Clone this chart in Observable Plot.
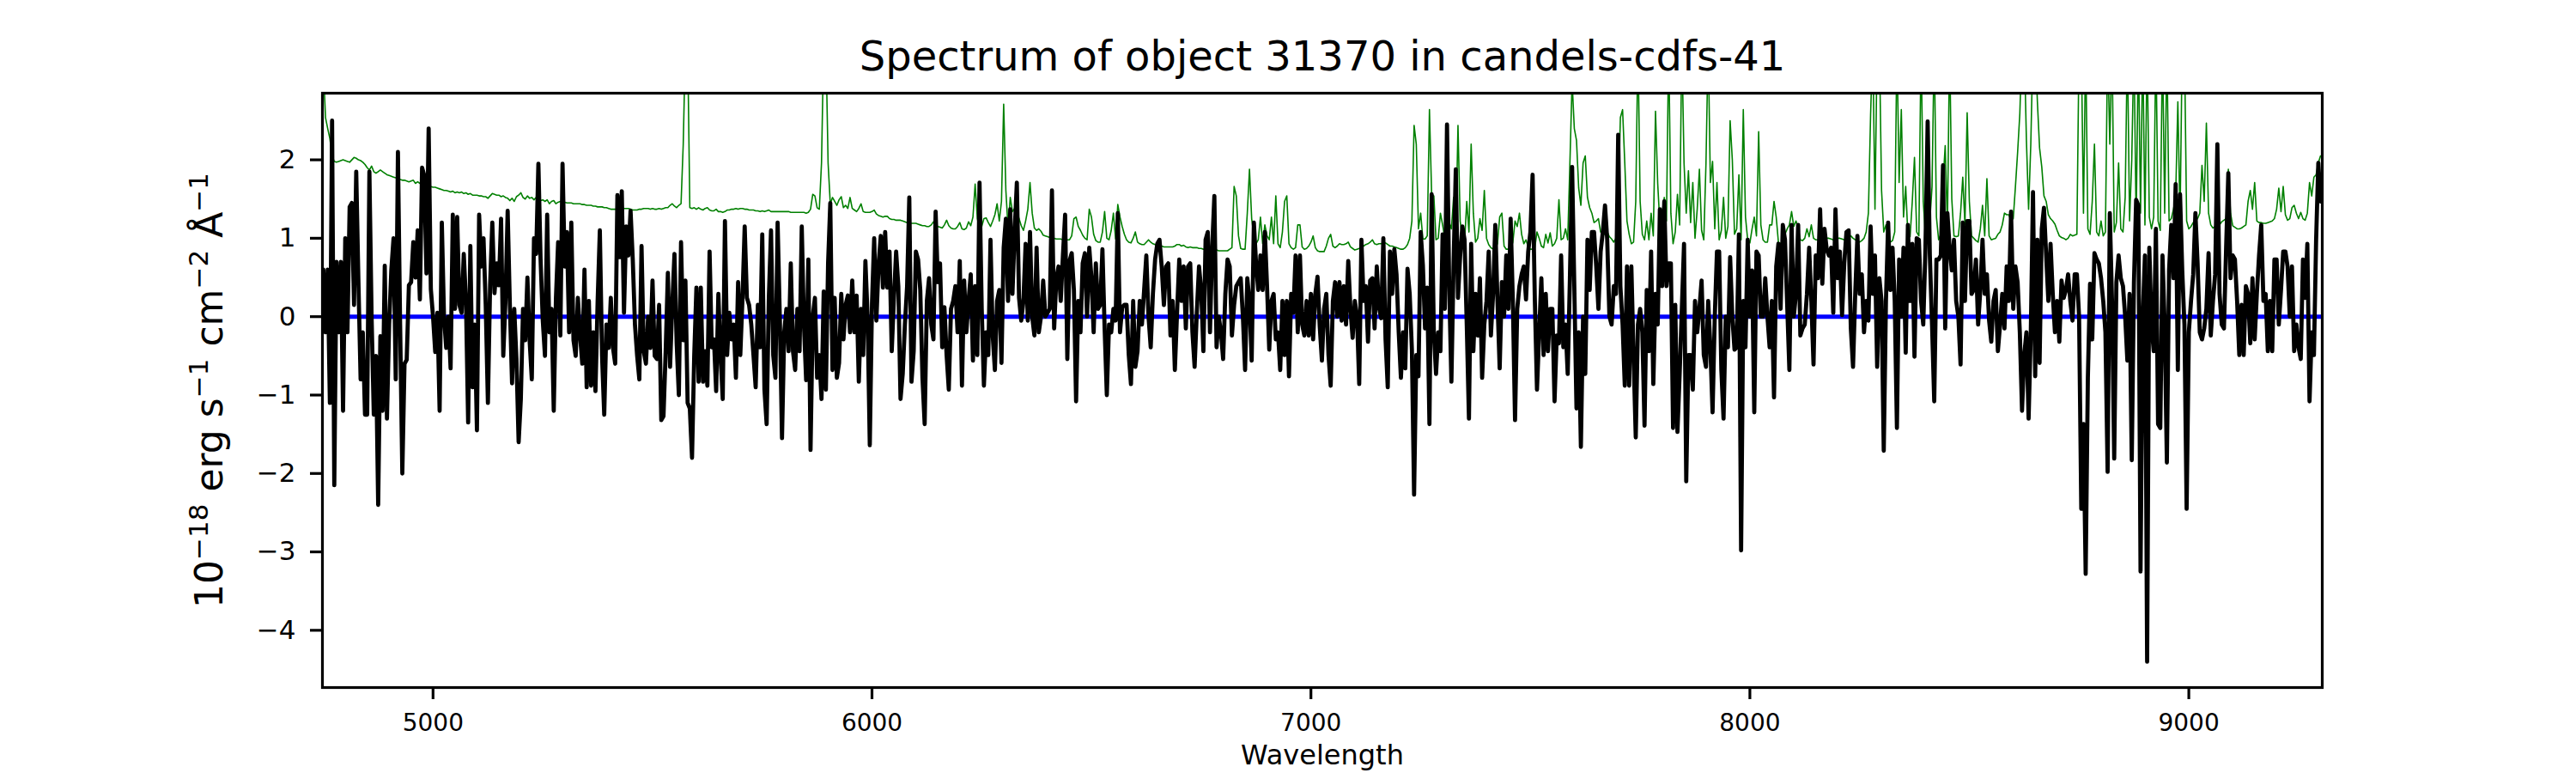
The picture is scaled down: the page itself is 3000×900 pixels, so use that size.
<!DOCTYPE html>
<html><head><meta charset="utf-8">
<script src="https://cdn.jsdelivr.net/npm/d3@7"></script>
<script src="https://cdn.jsdelivr.net/npm/@observablehq/plot@0.6"></script>
<style>html,body{margin:0;padding:0;background:#fff;} svg{display:block;}</style>
</head><body><div id="chart"></div>
<script>
const titleText = "Spectrum of object 31370 in candels-cdfs-41";
const xLabel = "Wavelength";
const yLabel = "10−18 erg s−1 cm−2 Å−1";
// pieces of the y label: [text, isSuperscript]
const yLabelParts = [["10", false], ["−18", true], [" erg s", false], ["−1", true], [" cm", false], ["−2", true], [" Å", false], ["−1", true]];
const xTicks = [5000, 6000, 7000, 8000, 9000];
const yTicks = [-4, -3, -2, -1, 0, 1, 2];
const xDomain = [4748, 9304];
const yDomain = [-4.73, 2.85];
const zeroLevel = [0];
// regular 5 Å sampling grid of the spectrum
const wavelengthStart = 4750;
const wavelengthStep = 5;

// observed flux (black)
const flux = [
0.6,-0.2,0.6,-1.1,2.5,-2.15,0.7,-0.2,0.7,-1.2,
1.0,-0.2,1.4,1.45,0.15,1.85,0.45,-0.8,-0.2,-1.25,
-1.25,1.85,0.0,-1.25,-0.5,-2.4,-0.25,-1.2,0.65,-1.3,
-0.1,0.6,1.0,-0.8,2.1,-0.1,-2.0,-0.6,-0.55,0.4,
0.44,0.95,0.5,1.1,0.22,1.9,1.8,0.55,2.4,0.35,
0.0,-0.45,0.05,-1.2,1.2,0.0,-0.4,0.0,-0.66,1.3,
0.1,1.27,0.15,0.05,0.8,0.2,-1.35,0.9,-0.9,-0.1,
-1.45,1.3,0.64,1.0,0.15,-1.1,0.4,1.2,0.3,0.68,
0.4,1.25,-0.5,0.2,1.35,0.15,-0.85,0.1,-0.54,-1.6,
-1.05,0.1,-0.3,0.5,-0.3,-0.8,1.0,0.8,1.95,0.73,
-0.05,-0.5,1.3,-0.2,0.1,-1.2,0.24,0.95,-0.24,1.95,
0.64,1.08,-0.2,1.2,-0.3,-0.5,0.24,-0.24,-0.6,0.6,
-0.9,0.2,-0.88,-0.2,-0.95,0.2,1.1,-0.5,-1.25,-0.1,
-0.4,0.24,-0.4,-0.6,1.55,0.76,1.6,0.05,1.15,0.78,
1.35,0.73,-0.1,-0.5,-0.8,0.9,-0.44,-0.6,0.0,-0.4,
0.46,-0.5,-0.54,0.15,-1.32,-1.27,-0.44,0.56,-0.64,0.15,
0.8,-0.34,-1.0,0.95,-0.3,0.46,-1.1,-1.17,-1.8,-0.5,
0.37,-0.83,0.37,-0.83,-0.44,-0.88,0.83,-0.39,-0.29,-0.95,
0.29,-0.49,-1.05,1.22,-0.49,0.05,-0.29,-0.1,-0.78,0.44,
-0.49,0.24,1.15,0.24,0.15,-0.1,-0.49,-0.9,0.15,-0.39,
1.05,-0.93,-1.37,0.24,1.1,-0.49,-0.78,1.2,0.0,-1.55,
-0.2,0.1,-0.44,0.68,-0.44,-0.68,0.1,-0.44,1.15,-0.1,
-0.81,0.73,-1.7,0.0,0.24,-0.78,-0.49,-1.05,0.32,-0.93,
0.68,1.45,
-0.68,0.24,-0.78,-0.59,0.29,-0.29,0.15,0.27,-0.2,0.46,
-0.2,0.27,-0.83,0.1,-0.49,0.71,0,-1.64,0.17,1.0,
-0.05,0.66,1.03,0.37,1.08,0.37,0.83,-0.44,0.24,0.83,
0.39,-1.05,-0.73,-0.1,0.39,1.52,-0.83,-0.44,0.83,0.73,
0.34,-0.78,-1.37,0.2,0.49,-0.1,-0.29,1.34,0.44,0.68,
-0.39,0.12,-0.49,-0.93,0.1,0.2,0.39,-0.2,0.71,-0.88,
0.46,-0.2,0.2,0.54,-0.56,0.39,-0.49,1.71,0.1,-0.88,
-0.2,-0.49,0.98,-0.24,-0.68,0.2,0.34,-0.59,0.88,1.25,
0.2,1.37,0.29,1.08,1.71,0.24,-0.05,0.2,0.93,-0.05,
1.08,0,-0.24,0.88,-0.2,0,0.46,0,0.05,0.1,
1.61,-0.15,0.49,0.64,0.2,0.78,1.3,-0.54,0.71,0.81,
0.34,-1.08,0.2,-0.2,0.68,0.81,0,0.88,0.49,-0.2,
0.68,0.1,0.15,0.86,-0.15,-1.0,-0.1,-0.2,0.1,-0.05,
1.32,-0.2,0.12,0.15,0.15,-0.49,-0.86,0.2,-0.64,-0.44,
0.2,-0.1,0.34,0.78,0,-0.39,0.29,0.73,0.93,0.98,
0.64,0.15,0.64,0.68,-0.24,0.2,-0.68,0.05,0.73,0.2,
0.64,-0.15,0.64,0.68,-0.2,-0.64,0.05,0.64,0.34,-0.44,
0.98,1.08,-0.2,0.88,1.54,-0.39,0,-0.2,-0.54,0.29,
0.73,0.64,-0.24,0.15,0.39,0.44,0.49,0,-0.68,0.49,
0.2,-0.56,1.2,0.68,0.34,0.78,0.34,1.08,0.39,-0.42,
0.2,0.29,-0.29,-0.2,-0.68,0.2,-0.49,0.2,-0.76,0.29,
0.05,0.78,-0.2,0.78,-0.1,-0.24,0.2,-0.24,0.29,-0.29,
0.29,0.51,-0.12,-0.56,0.1,0.29,-0.49,-0.88,0.2,0.44,
0,0.44,
-0.05,0.39,-0.1,0.71,0.1,-0.27,0.2,0,-0.86,0.98,
0.2,0.39,-0.32,0.46,0.49,-0.15,0.64,0.12,-0.02,1.0,
-0.29,-0.9,0.83,0.29,0.86,0.54,-0.2,-0.78,-0.2,-0.66,
0.61,0.29,-0.42,-2.27,-0.49,-0.76,1.08,0.66,-0.15,0.37,
-1.37,1.56,-0.2,-0.73,-0.2,-0.44,1.05,0.1,2.45,0.39,
-0.83,0.68,1.88,0.24,0.78,1.15,0.98,-0.1,-1.3,0.93,
-0.44,0.29,-0.24,0.49,-0.78,-0.1,0.2,0.83,-0.24,0.29,
1.17,0.2,-0.66,0.44,0,0.78,0.1,1.25,0.2,-1.32,
0.1,0.39,0.54,0.64,0.22,0.83,1.08,1.81,0.24,-0.93,
-0.2,0.49,-0.49,0.29,-0.44,0.1,0.1,-1.08,-0.24,-0.34,
0.78,-0.39,-0.1,-0.73,0.49,1.91,0.39,-1.17,-0.2,-1.66,
0,-0.73,0.98,0.34,1.08,1.08,0.64,0.1,0.83,1.08,
1.42,0.98,0,-0.1,0.39,0.29,2.32,0.39,-0.1,-0.88,
0.64,-0.88,0.64,-0.49,-1.54,-0.1,0.1,-0.2,-1.39,0.34,
-0.44,0.83,-0.86,0.29,-0.1,1.37,0.39,1.47,0.39,0.68,
0.68,-1.42,0.15,-1.47,-0.73,0.1,0.93,-2.1,-0.49,-0.49,
-0.93,0.2,-0.2,0.1,0.46,-0.49,-0.64,0.2,-0.39,-1.22,
0,0.83,0.83,-0.68,-1.3,0,-0.39,0.76,0,-0.42,
-0.39,1.05,-2.98,0.2,-0.39,0.98,0,0.59,-1.22,0.83,
0.78,0,0,0.49,0,-0.39,0.2,-1.03,0.64,0.93,
0.1,1.17,0.98,0.15,-0.68,1.17,0,0.29,1.17,-0.24,
-0.15,-0.1,0.29,0.88,0.2,-0.61,0.78,0.49,1.37,0.42,
1.12,0.86,0.78,0.88,0.05,1.37,0.49,0.83,0.02,0.68,
1.08,
1.1,-0.15,-0.64,0.29,1.03,0.29,0.54,-0.2,0.2,-0.05,
1.15,0.29,0.78,-0.64,0.49,0.2,-1.71,0.2,1.2,0.34,
0.88,0.2,-1.42,0.73,0,0.88,-0.46,1.17,0.2,0.93,
-0.51,1.0,0.98,0.2,-0.1,0.88,2.49,0.78,-0.1,-1.08,
0.73,0.73,0.78,1.93,-0.15,1.32,0.88,0.59,0.98,0.2,
0,-0.61,1.2,0.2,1.22,1.22,0.29,0.34,0.73,-0.1,
0.34,0.98,0.29,0.54,-0.05,-0.32,0.2,0.34,-0.44,-0.1,
0.29,-0.15,0.64,0.2,1.34,0.1,0.64,0.44,-0.2,-1.2,
-0.49,-0.2,-1.3,-0.2,1.59,-0.76,0.98,-0.59,1.12,1.39,
0.78,0.2,0.93,0.29,-0.2,0.2,-0.32,0.46,0.24,0.34,
0.54,0.2,-0.05,0.54,0.54,0,-2.45,-1.37,-3.28,-0.78,
0.42,-0.29,0.81,0.73,0.68,0.49,0.2,-0.2,-1.98,1.32,
0.2,-1.81,0.44,0.78,0.49,0.39,0,-0.56,0.29,-1.83,
0.44,1.49,1.42,-3.25,0,0.78,-4.40,0.88,-0.1,-0.44,
1.12,-1.37,-1.42,0.78,-0.1,-1.86,0.59,1.17,0.49,1.69,
-0.68,1.56,0.59,-0.1,-2.45,-0.2,0.2,0.54,1.32,0.68,
-0.2,-0.29,-0.15,0.1,0.81,-0.24,0.2,0.54,2.2,0.29,
-0.1,-0.15,0.88,1.83,0.49,0.78,0.73,0.2,-0.49,0.15,
-0.49,0.39,0.29,-0.34,0.49,-0.29,0.29,0.78,1.17,0.2,
0.29,-0.44,0.2,-0.44,0.73,0.73,-0.1,0.34,0.83,0.83,
0.64,0,0.64,-0.44,-0.1,-0.39,-0.54,0.73,0.24,0.93,
-1.08,-0.2,-0.49,0.98,1.96,1.47
];

// noise / sky spectrum (green)
const noise = [
3.2,2.54,2.40,2.27,2.05,1.98,1.97,1.98,1.99,2.00,
1.99,1.98,1.97,2.00,2.03,2.02,2.00,1.99,1.97,1.94,
1.90,1.87,1.92,1.85,1.83,1.85,1.87,1.85,1.83,1.81,
1.80,1.79,1.78,1.77,1.76,1.75,1.74,1.74,1.73,1.72,
1.73,1.74,1.70,1.72,1.70,1.69,1.68,1.65,1.65,1.66,
1.65,1.65,1.64,1.63,1.62,1.61,1.61,1.60,1.59,1.60,
1.58,1.59,1.58,1.59,1.57,1.58,1.56,1.57,1.55,1.55,
1.55,1.54,1.54,1.53,1.53,1.51,1.54,1.57,1.56,1.55,
1.55,1.53,1.54,1.52,1.51,1.48,1.51,1.47,1.53,1.55,
1.58,1.52,1.50,1.54,1.51,1.52,1.49,1.52,1.51,1.48,
1.49,1.47,1.49,1.44,1.47,1.48,1.44,1.46,1.47,1.46,
1.46,1.45,1.45,1.45,1.44,1.44,1.44,1.44,1.43,1.43,
1.42,1.42,1.42,1.41,1.41,1.40,1.40,1.40,1.39,1.39,
1.38,1.37,1.37,1.37,1.37,1.37,1.38,1.38,1.38,1.38,
1.37,1.36,1.36,1.36,1.37,1.37,1.38,1.38,1.38,1.37,
1.38,1.37,1.37,1.38,1.37,1.38,1.39,1.39,1.42,1.44,
1.41,1.39,1.42,1.44,2.2,3.5,3.5,1.39,1.38,1.39,
1.37,1.39,1.37,1.36,1.38,1.39,1.36,1.35,1.35,1.37,
1.34,1.34,1.33,1.34,1.36,1.36,1.37,1.37,1.38,1.37,
1.38,1.38,1.37,1.37,1.36,1.36,1.36,1.35,1.35,1.34,
1.35,1.34,1.35,1.36,1.34,1.34,1.34,1.34,1.34,1.34,
1.34,1.34,1.34,1.33,1.33,1.33,1.33,1.33,1.33,1.33,
1.32,1.33,1.37,1.56,1.54,1.39,1.37,1.96,3.5,3.5,
1.96,1.44,
1.52,1.47,1.42,1.49,1.53,1.39,1.42,1.38,1.52,1.38,
1.36,1.34,1.38,1.44,1.34,1.33,1.33,1.33,1.34,1.36,
1.31,1.29,1.28,1.27,1.28,1.28,1.25,1.24,1.24,1.23,
1.23,1.23,1.22,1.21,1.20,1.19,1.19,1.19,1.19,1.18,
1.17,1.16,1.16,1.15,1.15,1.17,1.21,1.17,1.15,1.14,
1.13,1.17,1.23,1.16,1.13,1.12,1.12,1.15,1.20,1.12,
1.11,1.13,1.21,1.16,1.27,1.69,1.25,1.13,1.15,1.25,
1.26,1.20,1.15,1.22,1.30,1.44,1.22,1.47,2.71,1.61,
1.13,1.52,1.34,1.38,1.37,1.25,1.16,1.10,1.22,1.37,
1.71,1.32,1.13,1.10,1.12,1.09,1.04,1.03,1.02,1.01,
1.01,1.00,0.99,0.99,0.99,0.98,0.98,0.98,0.98,1.03,
1.25,1.27,1.15,1.10,1.04,1.00,0.98,1.37,1.27,1.05,
0.97,0.95,0.95,1.08,1.34,1.00,0.98,1.10,1.32,0.99,
1.43,1.27,1.15,1.05,0.98,0.95,0.94,1.00,1.08,0.95,
0.93,0.92,0.92,0.95,0.98,0.95,0.93,0.92,0.91,0.90,
0.90,0.89,0.89,0.89,0.89,0.89,0.90,0.92,0.92,0.90,
0.91,0.89,0.88,0.89,0.88,0.88,0.88,0.87,0.87,0.86,
0.86,0.86,0.86,0.86,0.85,0.85,0.84,0.84,0.84,0.84,
0.84,0.86,0.88,1.66,1.54,1.03,0.87,0.86,0.86,1.32,
1.88,1.25,1.03,0.93,0.98,1.27,0.93,1.17,1.03,0.98,
1.27,0.93,1.54,0.93,0.88,1.08,1.47,1.54,0.93,0.88,
0.86,0.88,1.17,1.17,0.89,0.86,0.87,0.90,0.95,1.03,
0.88,0.84,0.83,0.83,0.83,0.90,1.00,1.05,0.90,0.88,
0.90,0.93,
0.92,0.92,0.93,0.95,0.89,0.87,0.85,0.86,0.87,0.88,
0.90,0.92,0.93,0.95,0.98,0.93,0.92,0.93,0.93,0.94,
0.94,0.92,0.90,0.90,0.89,0.88,0.87,0.86,0.86,0.88,
0.92,1.00,1.22,2.44,2.20,1.12,1.32,0.99,0.99,1.03,
2.64,1.56,1.54,0.98,1.00,1.32,1.17,1.00,1.12,1.20,
1.12,1.52,1.00,2.44,1.22,0.98,0.95,1.47,1.08,2.20,
1.32,0.95,1.00,1.25,1.10,1.61,1.00,0.92,0.88,0.86,
0.86,0.93,1.27,1.32,0.90,0.86,0.86,0.86,0.95,1.22,
1.15,1.32,1.05,0.93,0.98,0.89,0.86,0.86,0.88,1.08,
1.00,0.90,0.88,1.05,0.94,1.07,0.90,0.93,1.00,1.49,
0.98,1.00,1.12,0.98,1.96,3.0,2.40,2.25,1.64,1.42,
1.96,2.05,1.52,1.39,1.32,1.20,1.22,1.25,1.08,1.05,
1.05,1.08,1.02,0.99,0.95,1.00,1.47,2.54,2.64,1.96,
1.22,1.05,0.93,0.95,1.47,3.5,1.47,1.05,0.98,1.22,
0.98,1.32,1.03,2.62,1.70,1.17,1.32,1.52,1.22,3.5,
1.32,0.93,1.08,1.56,1.17,3.5,1.96,1.32,1.86,1.20,
1.71,1.00,1.37,1.88,1.10,0.98,1.96,3.5,1.71,1.98,
1.12,1.71,0.98,1.10,1.52,1.00,1.15,2.50,2.00,1.05,
1.12,1.81,0.98,2.64,1.27,0.98,0.94,1.12,1.27,1.03,
2.36,1.17,0.98,0.95,0.95,1.17,1.17,1.47,1.27,0.95,
0.93,0.98,1.05,1.12,1.17,1.34,1.15,1.22,1.13,0.98,
0.97,1.00,1.12,1.02,1.17,1.00,0.98,0.98,0.99,1.00,
1.00,1.00,1.00,0.99,0.98,0.99,1.00,1.00,0.99,0.98,
0.99,
1.00,1.03,1.00,0.98,0.97,0.95,0.97,1.00,1.08,1.32,
2.57,3.5,1.37,3.5,3.5,1.61,1.08,1.17,0.98,0.95,
0.97,1.08,3.5,1.71,2.64,1.27,1.66,1.03,1.02,1.47,
2.03,1.08,1.03,3.5,1.47,1.03,0.98,1.22,1.66,3.5,
1.27,0.98,1.05,1.71,2.18,1.12,3.5,1.50,1.03,1.02,
1.03,1.32,1.78,1.17,2.60,1.47,1.03,1.00,0.97,0.95,
1.12,1.42,1.03,1.76,1.03,0.98,0.99,1.00,1.05,1.08,
1.17,1.32,1.30,1.30,1.22,1.25,1.66,2.10,2.59,3.5,
3.5,2.25,1.37,2.20,3.5,3.5,2.74,2.15,1.91,1.54,
1.47,1.30,1.25,1.22,1.18,1.10,1.03,1.01,1.00,0.98,
1.00,1.05,1.03,1.04,1.05,3.5,3.5,1.32,3.5,1.12,
1.05,1.47,2.20,1.08,1.03,1.22,1.03,1.08,3.5,2.20,
3.5,1.08,1.20,1.96,1.12,1.08,1.52,3.5,1.22,2.00,
3.5,1.17,3.5,1.32,3.5,1.17,3.5,1.27,1.12,1.27,
3.5,1.22,1.10,3.5,1.32,3.5,1.22,1.25,1.37,1.52,
2.74,1.22,3.5,3.5,1.22,1.12,1.15,1.20,1.22,1.25,
1.32,1.93,1.47,2.47,1.32,1.17,1.13,1.15,1.17,1.17,
1.21,1.23,1.25,1.88,1.32,1.16,1.14,1.12,1.12,1.13,
1.15,1.17,1.47,1.61,1.37,1.71,1.22,1.20,1.20,1.19,
1.19,1.20,1.21,1.22,1.25,1.37,1.64,1.34,1.66,1.30,
1.23,1.25,1.39,1.42,1.32,1.25,1.33,1.25,1.23,1.32,
1.71,1.54,1.78,1.81,1.96,2.05
];

const rows = flux.map((f, i) => ({
  wavelength: wavelengthStart + i * wavelengthStep,
  flux: f,
  noise: noise[i]
}));

const chart = Plot.plot({
  width: 3000,
  height: 900,
  marginLeft: 375,
  marginRight: 296,
  marginTop: 108,
  marginBottom: 100,
  style: {fontFamily: "DejaVu Sans", background: "white", color: "black", overflow: "visible"},
  x: {domain: xDomain},
  y: {domain: yDomain},
  marks: [
    Plot.ruleY(zeroLevel, {stroke: "#0000ff", strokeWidth: 5}),
    Plot.lineY(rows, {x: "wavelength", y: "noise", stroke: "#008000", strokeWidth: 1.6, clip: true}),
    Plot.lineY(rows, {x: "wavelength", y: "flux", stroke: "black", strokeWidth: 4.8, clip: true}),
    Plot.frame({stroke: "black", strokeWidth: 3.2}),
    Plot.axisX({ticks: xTicks, tickFormat: d3.format("d"), tickSize: 14, tickPadding: 17, fontSize: 28, strokeWidth: 3.2, label: null}),
    Plot.axisY({ticks: yTicks, tickFormat: d3.format("d"), tickSize: 14, tickPadding: 17, fontSize: 31, strokeWidth: 3.2, label: null}),
    Plot.text([titleText], {text: d => d, frameAnchor: "top", textAnchor: "middle", lineAnchor: "middle", dy: -42, fontSize: 48, fill: "black"}),
    Plot.text([xLabel], {text: d => d, frameAnchor: "bottom", textAnchor: "middle", lineAnchor: "top", dy: 67, fontSize: 32, fill: "black"}),
    Plot.text([yLabel], {text: d => d, frameAnchor: "left", textAnchor: "middle", lineAnchor: "middle", rotate: -90, dx: -131, fontSize: 44, fill: "black"})
  ]
});

// typeset the y label with real superscripts (as in the reference's math text)
const labelText = d3.select(chart).selectAll("text").filter(function() { return this.textContent === yLabel; });
labelText.each(function() {
  const t = d3.select(this);
  t.text(null);
  let raised = false;
  for (const [part, sup] of yLabelParts) {
    const span = t.append("tspan").text(part);
    if (sup && !raised) { span.attr("dy", -17).attr("font-size", 31); raised = true; }
    else if (sup) { span.attr("font-size", 31); }
    else if (!sup && raised) { span.attr("dy", 17); raised = false; }
  }
});
document.getElementById("chart").appendChild(chart);
</script>
</body></html>
